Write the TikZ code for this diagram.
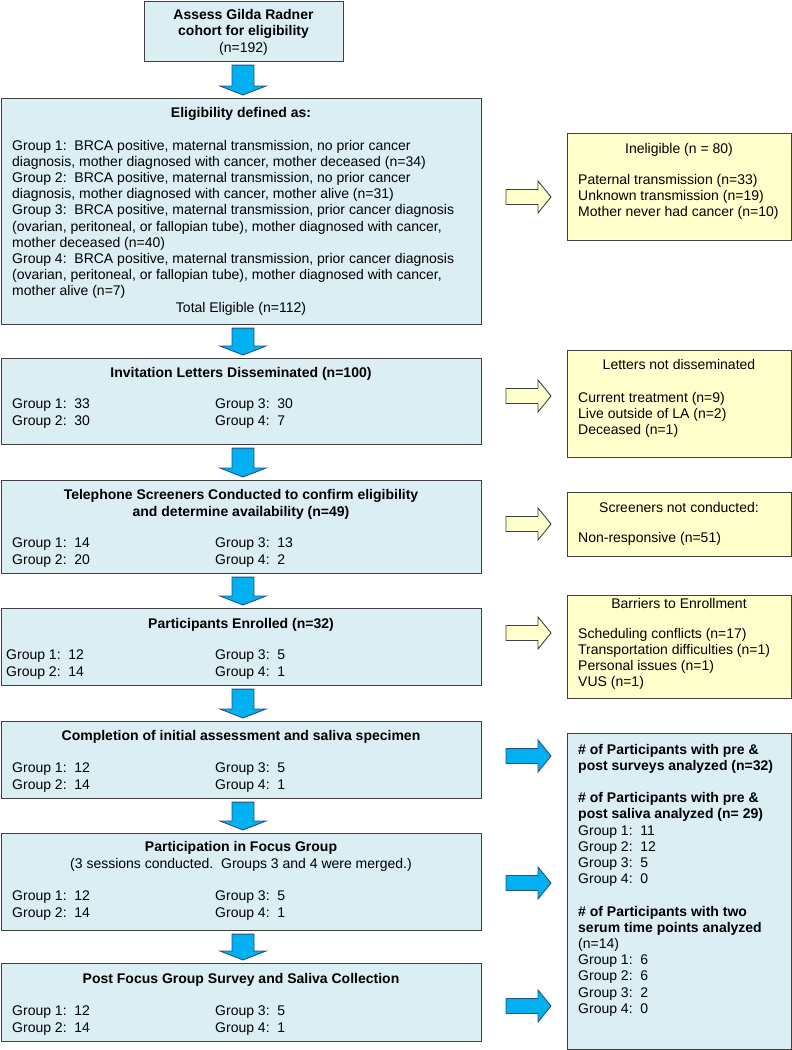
\documentclass[tikz,border=0pt]{standalone}
\usepackage{fontspec}
\setmainfont{Liberation Sans}
\usetikzlibrary{calc}
\definecolor{lblue}{RGB}{219,238,244}
\definecolor{lyel}{RGB}{255,255,204}
\definecolor{cyanA}{RGB}{0,176,240}
\definecolor{edge}{RGB}{64,64,64}
\definecolor{arredge}{RGB}{40,80,130}
\newcommand\mydownarrow[2]{%
  \path ($(#1.south -| ctr)+(0,3)$) coordinate (#1-a)
        ($(#2.north -| ctr)+(0,-3)$) coordinate (#1-b);
  \draw[darr] ($(#1-a)+(-11,0)$) -- ($(#1-b)+(-11,-9)$) -- ($(#1-b)+(-23,-9)$) -- (#1-b)
     -- ($(#1-b)+(23,-9)$) -- ($(#1-b)+(11,-9)$) -- ($(#1-a)+(11,0)$) -- cycle;}
\newcommand\myrightarrow[3]{%
  \coordinate (#2) at (506,#3);
  \draw[#1] ($(#2)+(0,-7.5)$) -- ($(#2)+(32,-7.5)$) -- ($(#2)+(32,-16)$) -- ($(#2)+(45,0)$)
     -- ($(#2)+(32,16)$) -- ($(#2)+(32,7.5)$) -- ($(#2)+(0,7.5)$) -- cycle;}
\begin{document}
\begin{tikzpicture}[x=1pt,y=-1pt,
  box/.style={draw=edge,line width=1.1pt,inner sep=0pt,anchor=north west},
  lbox/.style={box,fill=lblue},
  ybox/.style={box,fill=lyel},
  txt/.style={inner sep=0pt,font=\fontsize{14}{16.2}\selectfont,align=left,anchor=base west},
  txtc/.style={txt,anchor=base,align=center},
  darr/.style={draw=arredge,fill=cyanA,line width=0.9pt,line join=miter},
  yarr/.style={draw=edge,fill=lyel,line width=0.9pt,line join=miter},
  barr/.style={draw=arredge,fill=cyanA,line width=0.9pt,line join=miter}]
\useasboundingbox (0,0) rectangle (792,1050);
\coordinate (ctr) at (243,0);
% left boxes
\node[lbox,minimum width=199pt,minimum height=60pt] (top) at (144,1) {};
\node[lbox,minimum width=480pt,minimum height=226pt] (elig) at (1,98) {};
\node[lbox,minimum width=480pt,minimum height=86pt] (inv) at (1,358) {};
\node[lbox,minimum width=480pt,minimum height=93pt] (tel) at (1,480) {};
\node[lbox,minimum width=480pt,minimum height=77pt] (enr) at (1,608) {};
\node[lbox,minimum width=480pt,minimum height=77pt] (comp) at (1,721) {};
\node[lbox,minimum width=480pt,minimum height=97pt] (focus) at (1,833) {};
\node[lbox,minimum width=480pt,minimum height=78pt] (post) at (1,963) {};
% right boxes
\node[ybox,minimum width=224pt,minimum height=107pt] (inel) at (567,133) {};
\node[ybox,minimum width=224pt,minimum height=107pt] (letters) at (567,350) {};
\node[ybox,minimum width=224pt,minimum height=64pt] (screen) at (567,492) {};
\node[ybox,minimum width=224pt,minimum height=103pt] (barrier) at (567,595) {};
\node[lbox,minimum width=224pt,minimum height=316pt] (res) at (567,733) {};
% down arrows
\mydownarrow{top}{elig}
\mydownarrow{elig}{inv}
\mydownarrow{inv}{tel}
\mydownarrow{tel}{enr}
\mydownarrow{enr}{comp}
\mydownarrow{comp}{focus}
\mydownarrow{focus}{post}
% right arrows
\myrightarrow{yarr}{ya1}{197}
\myrightarrow{yarr}{ya2}{396}
\myrightarrow{yarr}{ya3}{524}
\myrightarrow{yarr}{ya4}{633}
\myrightarrow{barr}{ba1}{756}
\myrightarrow{barr}{ba2}{883}
\myrightarrow{barr}{ba3}{1006}
% texts (anchor = baseline of the LAST line)
\node[txtc] (topt) at (243.5,52) {\textbf{Assess Gilda Radner}\\\textbf{cohort for eligibility}\\(n=192)};
% eligibility
\node[txtc] (eligt) at (241,117) {\textbf{Eligibility defined as:}};
\node[txt] (eligg) at (12,295.8) {Group 1:\ \ BRCA positive, maternal transmission, no prior cancer\\
diagnosis, mother diagnosed with cancer, mother deceased (n=34)\\
Group 2:\ \ BRCA positive, maternal transmission, no prior cancer\\
diagnosis, mother diagnosed with cancer, mother alive (n=31)\\
Group 3:\ \ BRCA positive, maternal transmission, prior cancer diagnosis\\
(ovarian, peritoneal, or fallopian tube), mother diagnosed with cancer,\\
mother deceased (n=40)\\
Group 4:\ \ BRCA positive, maternal transmission, prior cancer diagnosis\\
(ovarian, peritoneal, or fallopian tube), mother diagnosed with cancer,\\
mother alive (n=7)};
\node[txtc] (eligtot) at (241,312) {Total Eligible (n=112)};
% invitation
\node[txtc] (invt) at (241,377) {\textbf{Invitation Letters Disseminated (n=100)}};
\node[txt] (inva) at (12,425) {Group 1:\ \ 33\\Group 2:\ \ 30};
\node[txt] (invb) at (215,425) {Group 3:\ \ 30\\Group 4:\ \ 7};
% telephone
\node[txtc] (telt) at (241,516) {\textbf{Telephone Screeners Conducted to confirm eligibility}\\\textbf{and determine availability (n=49)}};
\node[txt] (tela) at (12,564) {Group 1:\ \ 14\\Group 2:\ \ 20};
\node[txt] (telb) at (215,564) {Group 3:\ \ 13\\Group 4:\ \ 2};
% enrolled
\node[txtc] (enrt) at (241,628) {\textbf{Participants Enrolled (n=32)}};
\node[txt] (enra) at (6,676) {Group 1:\ \ 12\\Group 2:\ \ 14};
\node[txt] (enrb) at (215,676) {Group 3:\ \ 5\\Group 4:\ \ 1};
% completion
\node[txtc] (compt) at (241,740) {\textbf{Completion of initial assessment and saliva specimen}};
\node[txt] (compa) at (12,789) {Group 1:\ \ 12\\Group 2:\ \ 14};
\node[txt] (compb) at (215,789) {Group 3:\ \ 5\\Group 4:\ \ 1};
% focus
\node[txtc] (focust) at (241,868) {\textbf{Participation in Focus Group}\\(3 sessions conducted.\ \ Groups 3 and 4 were merged.)};
\node[txt] (focusa) at (12,917) {Group 1:\ \ 12\\Group 2:\ \ 14};
\node[txt] (focusb) at (215,917) {Group 3:\ \ 5\\Group 4:\ \ 1};
% post
\node[txtc] (postt) at (241,983) {\textbf{Post Focus Group Survey and Saliva Collection}};
\node[txt] (posta) at (12,1032) {Group 1:\ \ 12\\Group 2:\ \ 14};
\node[txt] (postb) at (215,1032) {Group 3:\ \ 5\\Group 4:\ \ 1};
% right texts
\node[txtc] (inelt) at (679,153) {Ineligible (n = 80)};
\node[txt] (inell) at (578,216.4) {Paternal transmission (n=33)\\Unknown transmission (n=19)\\Mother never had cancer (n=10)};
\node[txtc] (lettt) at (679,369) {Letters not disseminated};
\node[txt] (lettl) at (578,434.4) {Current treatment (n=9)\\Live outside of LA (n=2)\\Deceased (n=1)};
\node[txtc] (scrt) at (679,512) {Screeners not conducted:};
\node[txt] (scrl) at (578,542) {Non-responsive (n=51)};
\node[txtc] (bart) at (679,608) {Barriers to Enrollment};
\node[txt] (barl) at (578,686.6) {Scheduling conflicts (n=17)\\Transportation difficulties (n=1)\\Personal issues (n=1)\\VUS (n=1)};
\node[txt] (resl) at (578,1013.2) {\textbf{\# of Participants with pre \&}\\
\textbf{post surveys analyzed (n=32)}\\[16.2pt]
\textbf{\# of Participants with pre \&}\\
\textbf{post saliva analyzed (n= 29)}\\
Group 1:\ \ 11\\Group 2:\ \ 12\\Group 3:\ \ 5\\Group 4:\ \ 0\\[16.2pt]
\textbf{\# of Participants with two}\\
\textbf{serum time points analyzed}\\
(n=14)\\
Group 1:\ \ 6\\Group 2:\ \ 6\\Group 3:\ \ 2\\Group 4:\ \ 0};
\end{tikzpicture}
\end{document}
